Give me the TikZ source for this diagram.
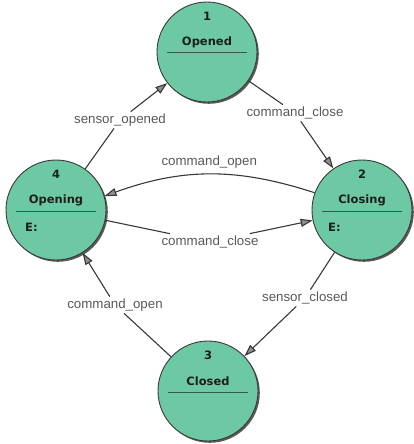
\documentclass[tikz,border=0pt]{standalone}
\usepackage{fontspec}
\setmainfont{Liberation Sans}
\newfontfamily\statefont{DejaVu Sans}
\usetikzlibrary{arrows.meta,shadows}

\definecolor{statefill}{HTML}{6DC9A4}
\definecolor{stateedge}{HTML}{3A3A3A}
\definecolor{stateshade}{HTML}{5A5A5A}
\definecolor{sepline}{HTML}{2E5C48}
\definecolor{wire}{HTML}{383838}
\definecolor{tipfill}{HTML}{8E8E8E}
\definecolor{labelgray}{HTML}{585858}
\definecolor{statetext}{HTML}{1E1E1E}

\begin{document}
\begin{tikzpicture}[x=1pt,y=-1pt,
  state/.style={circle, minimum size=100pt, inner sep=0pt, fill=statefill,
    draw=stateedge, line width=0.9pt,
    drop shadow={shadow xshift=1.8pt, shadow yshift=-1.8pt, fill=stateshade, opacity=1}},
  statetxt/.style={font=\statefont\bfseries\fontsize{11.5}{14}\selectfont, text=statetext, inner sep=0pt},
  entrytext/.style={statetxt, anchor=west},
  divider/.style={draw=sepline, line width=1pt},
  wireline/.style={draw=wire, line width=1.1pt},
  trans/.style={wireline, -{Triangle[length=12pt, width=8pt, fill=tipfill]}},
  tlabel/.style={font=\fontsize{13.3}{15}\selectfont, text=labelgray, inner sep=2pt},
]
\useasboundingbox (0,0) rectangle (413,444);

% states
\node[state] (n1) at (207,52) {};
\node[state] (n2) at (362,210) {};
\node[state] (n3) at (208,391) {};
\node[state] (n4) at (56,210) {};

% state 1
\node[statetxt] (n1num)  at ([yshift=36pt]n1.center) {1};
\node[statetxt] (n1name) at ([yshift=10pt]n1.center) {Opened};
\draw[divider] ([xshift=-40pt,yshift=-1pt]n1.center) -- ([xshift=40pt,yshift=-1pt]n1.center);

% state 2
\node[statetxt] (n2num)  at ([yshift=36pt]n2.center) {2};
\node[statetxt] (n2name) at ([yshift=10pt]n2.center) {Closing};
\draw[divider] ([xshift=-40pt,yshift=-1pt]n2.center) -- ([xshift=40pt,yshift=-1pt]n2.center);
\node[entrytext] (n2entry) at ([xshift=-34pt,yshift=-17pt]n2.center) {E:};

% state 3
\node[statetxt] (n3num)  at ([yshift=36pt]n3.center) {3};
\node[statetxt] (n3name) at ([yshift=10pt]n3.center) {Closed};
\draw[divider] ([xshift=-40pt,yshift=-1pt]n3.center) -- ([xshift=40pt,yshift=-1pt]n3.center);

% state 4
\node[statetxt] (n4num)  at ([yshift=36pt]n4.center) {4};
\node[statetxt] (n4name) at ([yshift=10pt]n4.center) {Opening};
\draw[divider] ([xshift=-40pt,yshift=-1pt]n4.center) -- ([xshift=40pt,yshift=-1pt]n4.center);
\node[entrytext] (n4entry) at ([xshift=-31pt,yshift=-17pt]n4.center) {E:};

% transition labels (the straight transitions are routed through them)
\node[tlabel] (l41) at (120,120) {sensor\_opened};
\node[tlabel] (l12) at (295,113) {command\_close};
\node[tlabel] (l23) at (305,298) {sensor\_closed};
\node[tlabel] (l34) at (115,305) {command\_open};
\node[tlabel] (l42) at (210,242) {command\_close};

% transitions
\draw[wireline] (n4) -- (l41);  \draw[trans] (l41) -- (n1);
\draw[wireline] (n1) -- (l12);  \draw[trans] (l12) -- (n2);
\draw[wireline] (n2) -- (l23);  \draw[trans] (l23) -- (n3);
\draw[wireline] (n3) -- (l34);  \draw[trans] (l34) -- (n4);
\draw[wireline] (n4) -- (l42);  \draw[trans] (l42) -- (n2);
\draw[trans] (n2.160) to[bend right=19] node[tlabel, midway, above=4pt] (l24) {command\_open} (n4.16);
\end{tikzpicture}
\end{document}
